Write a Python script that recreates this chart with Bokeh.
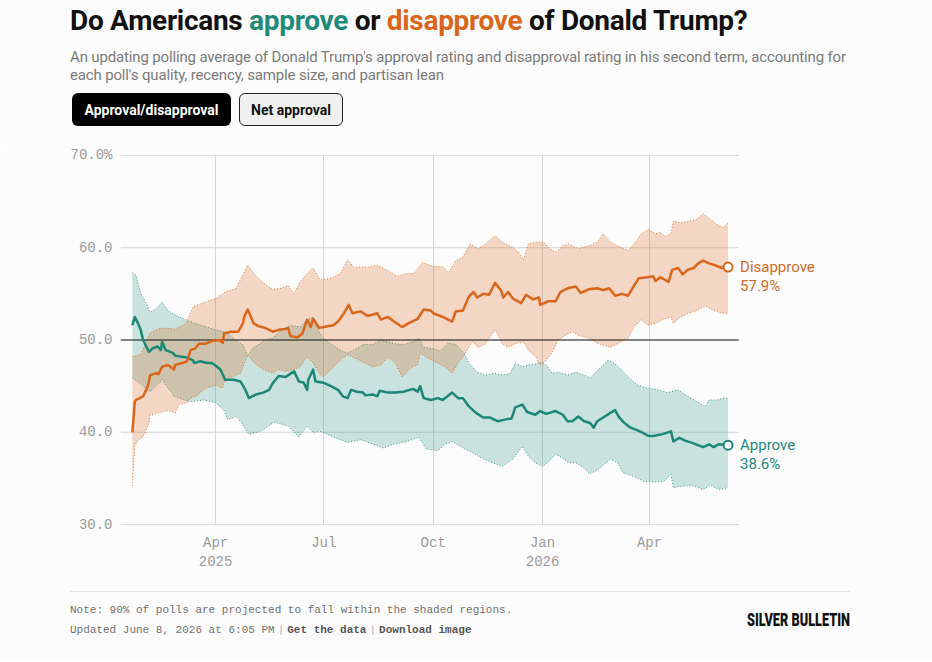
import numpy as np
import pandas as pd
from bokeh.plotting import figure
from bokeh.models import Range1d, FixedTicker, Div
from bokeh.core.properties import value
from bokeh.layouts import column
from bokeh.embed import file_html
from bokeh.resources import INLINE

# ---------------- data ----------------
dis_dates = ["2025-01-21","2025-01-23","2025-01-24","2025-01-30","2025-02-03","2025-02-05","2025-02-10","2025-02-12",
             "2025-02-15","2025-02-20","2025-02-25","2025-02-26","2025-03-04","2025-03-08","2025-03-11","2025-03-15",
             "2025-03-18","2025-03-24","2025-03-29","2025-04-04","2025-04-07","2025-04-08","2025-04-14","2025-04-20",
             "2025-04-24","2025-04-25","2025-04-28","2025-04-30","2025-05-03","2025-05-07","2025-05-13","2025-05-19",
             "2025-05-24","2025-05-30","2025-06-01","2025-06-03","2025-06-09","2025-06-13","2025-06-17","2025-06-20",
             "2025-06-22","2025-06-27","2025-07-01","2025-07-09","2025-07-13","2025-07-18","2025-07-22","2025-07-25",
             "2025-08-01","2025-08-07","2025-08-15","2025-08-18","2025-08-24","2025-08-29","2025-09-05","2025-09-10",
             "2025-09-18","2025-09-23","2025-09-29","2025-10-01","2025-10-07","2025-10-09","2025-10-17","2025-10-20",
             "2025-10-26","2025-10-31","2025-11-04","2025-11-07","2025-11-12","2025-11-17","2025-11-22","2025-11-27",
             "2025-11-29","2025-12-03","2025-12-07","2025-12-14","2025-12-18","2025-12-24","2025-12-29","2025-12-30",
             "2026-01-06","2026-01-12","2026-01-16","2026-01-22","2026-01-29","2026-02-02","2026-02-09","2026-02-16",
             "2026-02-21","2026-02-26","2026-03-03","2026-03-09","2026-03-14","2026-03-19","2026-03-23","2026-03-30",
             "2026-04-04","2026-04-06","2026-04-10","2026-04-17","2026-04-20","2026-04-25","2026-04-29","2026-05-03",
             "2026-05-08","2026-05-12","2026-05-16","2026-05-21","2026-05-26","2026-06-01","2026-06-06"]
dis_vals = [40.0,43.3,43.5,43.9,45.0,46.2,46.4,46.3,47.1,47.3,46.8,47.3,47.5,47.7,48.9,49.1,
            49.6,49.6,49.9,50.0,49.7,50.7,50.9,50.9,51.8,52.5,53.3,52.7,51.8,51.5,51.3,50.9,
            51.1,51.2,51.3,50.4,50.3,50.7,52.2,51.4,52.3,51.3,51.4,51.6,52.0,52.9,53.8,52.9,
            53.1,52.6,52.9,52.2,52.5,52.0,51.4,51.8,52.3,53.3,53.2,52.9,52.6,52.5,52.0,53.1,
            53.2,54.7,55.2,54.6,55.0,54.9,56.2,55.4,54.6,55.2,54.5,54.0,54.9,54.4,54.6,53.8,
            54.2,54.2,55.2,55.6,55.8,55.1,55.5,55.6,55.4,55.6,54.8,55.0,54.8,55.9,56.7,56.8,
            56.9,56.4,56.8,56.3,57.6,57.8,57.1,57.6,57.8,58.3,58.6,58.3,58.1,57.8,57.9]

app_dates = ["2025-01-21","2025-01-23","2025-01-25","2025-01-28","2025-01-30","2025-02-04","2025-02-07","2025-02-11",
             "2025-02-14","2025-02-15","2025-02-18","2025-02-24","2025-02-26","2025-03-03","2025-03-08","2025-03-13",
             "2025-03-14","2025-03-19","2025-03-25","2025-03-29","2025-04-01","2025-04-05","2025-04-09","2025-04-16",
             "2025-04-22","2025-04-26","2025-04-29","2025-05-05","2025-05-11","2025-05-16","2025-05-19","2025-05-24",
             "2025-05-30","2025-06-06","2025-06-10","2025-06-14","2025-06-17","2025-06-18","2025-06-22","2025-06-24",
             "2025-06-30","2025-07-07","2025-07-13","2025-07-17","2025-07-21","2025-07-24","2025-07-29","2025-08-03",
             "2025-08-05","2025-08-11","2025-08-15","2025-08-17","2025-08-24","2025-08-30","2025-09-06","2025-09-14",
             "2025-09-18","2025-09-20","2025-09-23","2025-09-29","2025-10-05","2025-10-09","2025-10-17","2025-10-22",
             "2025-10-26","2025-10-31","2025-11-06","2025-11-12","2025-11-18","2025-11-24","2025-12-01","2025-12-06",
             "2025-12-09","2025-12-15","2025-12-19","2025-12-26","2025-12-30","2026-01-04","2026-01-12","2026-01-18",
             "2026-01-22","2026-01-26","2026-01-31","2026-02-05","2026-02-10","2026-02-13","2026-02-16","2026-02-21",
             "2026-02-27","2026-03-03","2026-03-06","2026-03-10","2026-03-16","2026-03-22","2026-03-27","2026-03-31",
             "2026-04-04","2026-04-12","2026-04-19","2026-04-21","2026-04-26","2026-05-01","2026-05-08","2026-05-16",
             "2026-05-21","2026-05-25","2026-05-29","2026-06-06"]
app_vals = [51.6,52.5,52.0,51.1,50.0,48.7,49.1,49.3,48.9,49.8,48.9,48.6,48.3,48.2,48.1,47.8,
            47.5,47.7,47.5,47.5,47.2,46.8,45.7,45.7,45.5,44.6,43.7,44.1,44.3,44.6,45.3,46.1,
            46.0,46.6,45.5,45.4,44.6,45.7,46.8,45.5,45.4,45.0,44.6,43.9,43.7,44.6,44.4,44.3,
            44.0,44.1,43.9,44.5,44.3,44.3,44.4,44.7,44.4,45.0,43.7,43.5,43.7,43.5,44.3,43.7,
            43.7,42.8,42.1,41.6,41.6,41.2,41.4,41.5,42.7,43.0,42.2,41.9,42.3,42.0,42.3,41.9,
            41.2,41.2,41.7,41.2,41.0,40.5,41.2,41.6,42.1,42.4,41.7,41.1,40.5,40.2,39.9,39.6,
            39.6,39.8,40.1,39.0,39.4,39.1,38.8,38.4,38.7,38.4,38.7,38.6]

dis_hi_dates = ["2025-01-21","2025-01-28","2025-02-05","2025-02-14","2025-02-26","2025-03-07","2025-03-13","2025-03-21",
                "2025-04-01","2025-04-09","2025-04-18","2025-04-22","2025-04-28","2025-05-03","2025-05-11","2025-05-19",
                "2025-05-26","2025-06-01","2025-06-06","2025-06-11","2025-06-17","2025-06-22","2025-06-28","2025-07-07",
                "2025-07-15","2025-07-21","2025-07-26","2025-08-07","2025-08-15","2025-08-24","2025-09-01","2025-09-09",
                "2025-09-15","2025-09-22","2025-10-01","2025-10-09","2025-10-14","2025-10-20","2025-10-26","2025-11-01",
                "2025-11-08","2025-11-14","2025-11-22","2025-11-28","2025-12-07","2025-12-12","2025-12-16","2025-12-20",
                "2025-12-26","2026-01-02","2026-01-06","2026-01-12","2026-01-18","2026-01-23","2026-01-31","2026-02-09",
                "2026-02-16","2026-02-21","2026-02-27","2026-03-05","2026-03-14","2026-03-19","2026-03-25","2026-03-31",
                "2026-04-06","2026-04-10","2026-04-14","2026-04-19","2026-04-21","2026-04-27","2026-05-06","2026-05-11",
                "2026-05-16","2026-05-22","2026-05-29","2026-06-02","2026-06-06"]
dis_hi_vals = [48.2,48.4,50.8,51.3,51.2,51.8,53.6,54.0,54.5,55.2,55.6,56.6,58.1,57.2,56.2,55.5,
               55.6,55.9,55.0,56.3,57.2,57.8,56.5,56.7,57.2,58.7,57.9,57.9,58.1,57.5,56.9,57.2,
               57.2,58.4,58.0,57.9,57.3,58.6,59.0,60.4,59.9,60.4,61.3,60.6,60.0,59.5,58.7,60.4,
               60.6,60.6,60.0,59.5,60.2,60.4,59.9,60.2,60.6,61.5,60.6,60.2,59.7,60.4,61.5,62.0,
               61.5,61.7,61.2,61.5,62.9,62.7,62.9,63.1,63.7,63.1,62.4,62.2,62.7]

dis_lo_dates = ["2025-01-21","2025-01-23","2025-01-26","2025-01-30","2025-02-04","2025-02-05","2025-02-12","2025-02-20",
                "2025-02-26","2025-03-01","2025-03-08","2025-03-11","2025-03-15","2025-03-24","2025-04-01","2025-04-07",
                "2025-04-09","2025-04-15","2025-04-22","2025-04-28","2025-05-03","2025-05-11","2025-05-19","2025-05-24",
                "2025-05-30","2025-06-06","2025-06-11","2025-06-17","2025-06-22","2025-06-27","2025-07-01","2025-07-07",
                "2025-07-15","2025-07-21","2025-07-26","2025-08-03","2025-08-11","2025-08-18","2025-08-24","2025-08-30",
                "2025-09-05","2025-09-12","2025-09-18","2025-09-20","2025-09-26","2025-10-03","2025-10-11","2025-10-17",
                "2025-10-22","2025-10-28","2025-11-03","2025-11-08","2025-11-14","2025-11-22","2025-11-28","2025-12-03",
                "2025-12-09","2025-12-16","2025-12-20","2025-12-26","2025-12-30","2026-01-04","2026-01-09","2026-01-14",
                "2026-01-20","2026-01-26","2026-01-31","2026-02-09","2026-02-17","2026-02-27","2026-03-08","2026-03-14",
                "2026-03-19","2026-03-25","2026-03-30","2026-04-06","2026-04-12","2026-04-19","2026-04-21","2026-04-27",
                "2026-05-04","2026-05-11","2026-05-18","2026-05-25","2026-06-01","2026-06-06"]
dis_lo_vals = [34.2,38.5,39.2,39.5,41.0,41.9,42.1,42.4,42.1,43.0,43.2,43.7,43.9,44.8,45.1,44.8,
               45.7,46.0,46.4,48.4,47.6,46.8,46.4,46.8,46.6,46.8,47.1,48.2,47.5,46.4,46.0,46.8,
               47.8,48.4,48.1,47.6,47.1,47.3,48.2,47.5,46.0,47.0,47.3,48.6,48.1,47.6,47.1,46.4,
               47.5,48.6,49.8,49.2,49.6,51.1,49.6,49.2,49.6,49.8,48.9,48.2,47.3,47.8,48.6,50.0,
               50.5,50.9,50.5,50.2,49.6,49.2,49.8,50.2,51.4,52.2,51.6,51.8,52.2,52.5,51.8,52.5,
               52.9,53.2,53.7,53.2,52.9,52.9]

app_hi_dates = ["2025-01-21","2025-01-24","2025-01-28","2025-02-01","2025-02-05","2025-02-10","2025-02-15","2025-02-20",
                "2025-02-26","2025-03-07","2025-03-15","2025-03-25","2025-04-01","2025-04-09","2025-04-18","2025-04-24",
                "2025-04-28","2025-05-02","2025-05-07","2025-05-13","2025-05-20","2025-05-26","2025-06-03","2025-06-11",
                "2025-06-17","2025-06-22","2025-06-26","2025-06-30","2025-07-07","2025-07-15","2025-07-21","2025-07-26",
                "2025-08-03","2025-08-11","2025-08-18","2025-08-24","2025-08-30","2025-09-06","2025-09-14","2025-09-19",
                "2025-09-23","2025-09-30","2025-10-07","2025-10-14","2025-10-20","2025-10-27","2025-10-31","2025-11-07",
                "2025-11-14","2025-11-21","2025-11-28","2025-12-05","2025-12-09","2025-12-15","2025-12-20","2025-12-26",
                "2025-12-30","2026-01-04","2026-01-09","2026-01-14","2026-01-22","2026-01-29","2026-02-05","2026-02-10",
                "2026-02-17","2026-02-25","2026-03-02","2026-03-08","2026-03-14","2026-03-22","2026-03-30","2026-04-08",
                "2026-04-16","2026-04-25","2026-05-03","2026-05-11","2026-05-18","2026-05-21","2026-05-28","2026-06-02",
                "2026-06-06"]
app_hi_vals = [57.3,57.0,55.1,54.1,53.0,53.4,54.1,53.2,52.7,52.2,51.8,51.4,51.1,50.9,50.0,49.5,
               48.2,49.1,49.5,50.0,50.3,51.1,51.6,51.4,52.2,52.5,51.1,50.3,49.6,48.9,48.6,48.9,
               49.5,49.5,50.0,49.8,49.6,49.5,49.8,50.2,49.2,49.1,48.8,49.7,49.5,48.6,47.5,46.5,
               46.2,46.4,46.2,46.4,47.5,47.1,47.3,47.4,47.6,47.3,46.4,46.5,46.2,46.5,46.2,45.9,
               46.8,47.8,47.5,46.8,46.0,45.1,44.8,44.6,44.3,44.6,43.9,43.3,42.8,43.5,43.5,43.7,
               43.7]

app_lo_dates = ["2025-01-21","2025-02-05","2025-02-15","2025-02-25","2025-03-11","2025-03-22","2025-04-01","2025-04-08",
                "2025-04-11","2025-04-19","2025-04-29","2025-05-09","2025-05-20","2025-06-01","2025-06-10","2025-06-17",
                "2025-06-22","2025-06-28","2025-07-09","2025-07-21","2025-08-01","2025-08-12","2025-08-20","2025-08-29",
                "2025-09-09","2025-09-19","2025-09-25","2025-10-05","2025-10-11","2025-10-17","2025-10-26","2025-11-03",
                "2025-11-12","2025-11-20","2025-11-28","2025-12-07","2025-12-15","2025-12-20","2025-12-26","2026-01-01",
                "2026-01-06","2026-01-12","2026-01-18","2026-01-23","2026-01-29","2026-02-04","2026-02-10","2026-02-17",
                "2026-02-27","2026-03-05","2026-03-10","2026-03-19","2026-03-27","2026-04-04","2026-04-13","2026-04-19",
                "2026-04-21","2026-04-30","2026-05-08","2026-05-16","2026-05-22","2026-05-29","2026-06-06"]
app_lo_vals = [45.9,44.4,45.7,43.9,43.3,43.5,43.2,42.4,41.4,41.7,39.8,40.1,41.1,40.7,39.5,40.7,
               40.0,40.1,39.5,38.9,39.2,38.7,38.3,38.7,39.0,39.5,38.2,38.0,38.7,39.0,38.3,37.8,
               37.1,36.7,36.3,37.1,38.5,37.4,36.7,36.3,36.8,37.6,37.2,36.7,36.7,36.2,35.5,36.0,
               37.1,36.7,35.6,35.2,34.7,34.6,34.7,35.4,34.0,34.2,34.2,33.8,34.3,33.8,34.0]

tick_dates = ["2025-04-01", "2025-07-01", "2025-10-01", "2026-01-01", "2026-04-01"]
tick_labels = ["Apr\n2025", "Jul", "Oct", "Jan\n2026", "Apr"]
y_ticks = [30, 40, 50, 60, 70]
y_labels = ["30.0", "40.0", "50.0", "60.0", "70.0%"]
grid_start = "2025-01-11"
grid_end = "2026-06-15"
midline = 50

# ---------------- styling ----------------
TEAL = "#1b8775"
ORANGE = "#d9661a"
BG = "#fcfcfc"
GRID = "#d6d6d6"
MONO = "Liberation Mono"


def dt(lst):
    return pd.to_datetime(lst).values


def ms(d):
    return pd.Timestamp(d).value // 10**6


p = figure(width=932, height=436, x_axis_type="datetime",
           x_range=Range1d(start=pd.Timestamp(grid_start), end=pd.Timestamp("2026-09-17")),
           y_range=Range1d(29.9, 70.1),
           output_backend="svg", toolbar_location=None,
           min_border_left=120, min_border_right=82, min_border_top=10, min_border_bottom=55,
           background_fill_color=BG, border_fill_color=BG, outline_line_color=None)

tick_ms = [ms(d) for d in tick_dates]
xt = FixedTicker(ticks=tick_ms)
p.xaxis.ticker = xt
p.xgrid.ticker = xt
p.xaxis.major_label_overrides = {t: l for t, l in zip(tick_ms, tick_labels)}
p.yaxis.ticker = FixedTicker(ticks=y_ticks)
p.yaxis.major_label_overrides = {t: l for t, l in zip(y_ticks, y_labels)}
p.ygrid.grid_line_color = None

for ax in (p.xaxis[0], p.yaxis[0]):
    ax.axis_line_color = None
    ax.major_tick_line_color = None
    ax.minor_tick_line_color = None
    ax.major_label_text_font = MONO
    ax.major_label_text_font_size = "14px"
    ax.major_label_text_color = "#9a9a9a"
p.xaxis.major_label_standoff = 3
p.yaxis.major_label_standoff = 2

p.xgrid.grid_line_color = GRID
p.xgrid.bounds = (ms(grid_start), ms(grid_end))

# horizontal gridlines only across the data area
n = len(y_ticks)
p.segment(x0=dt([grid_start] * n), y0=y_ticks, x1=dt([grid_end] * n), y1=y_ticks,
          line_color=GRID, line_width=1)


# bands: approve (teal) first, then disapprove (orange)
def band(hi_d, hi_v, lo_d, lo_v, color, alpha):
    hx = dt(hi_d)
    lx = dt(lo_d)
    px = np.concatenate([hx, lx[::-1]])
    py = np.concatenate([np.array(hi_v), np.array(lo_v)[::-1]])
    p.patch(px, py, fill_color=color, fill_alpha=alpha, line_color=None)
    p.line(hx, hi_v, line_color=color, line_alpha=0.85, line_width=1, line_dash="1 2")
    p.line(lx, lo_v, line_color=color, line_alpha=0.85, line_width=1, line_dash="1 2")


band(app_hi_dates, app_hi_vals, app_lo_dates, app_lo_vals, TEAL, 0.22)
band(dis_hi_dates, dis_hi_vals, dis_lo_dates, dis_lo_vals, ORANGE, 0.25)

# 50% reference line, above the bands, below the averages
p.segment(x0=dt([grid_start]), y0=[midline], x1=dt([grid_end]), y1=[midline],
          line_color="#1a1a1a", line_width=1)

p.line(dt(app_dates), app_vals, line_color=TEAL, line_width=2.5, line_join="round")
p.line(dt(dis_dates), dis_vals, line_color=ORANGE, line_width=2.5, line_join="round")

p.scatter(dt([app_dates[-1]]), [app_vals[-1]], size=9, fill_color="white", line_color=TEAL, line_width=2)
p.scatter(dt([dis_dates[-1]]), [dis_vals[-1]], size=9, fill_color="white", line_color=ORANGE, line_width=2)

for dates, vals, name, col in ((dis_dates, dis_vals, "Disapprove", "#cf6a28"),
                               (app_dates, app_vals, "Approve", "#23897a")):
    p.text(x=dt([dates[-1]]), y=[vals[-1]], text=[name], x_offset=12, text_baseline="middle",
           text_font=value("Roboto"), text_font_size="15px", text_color=col)
    p.text(x=dt([dates[-1]]), y=[vals[-1]], text=[f"{vals[-1]:.1f}%"], x_offset=12, y_offset=19,
           text_baseline="middle", text_font=value("Roboto"), text_font_size="15px", text_color=col)

header_html = """
<div style="position:relative;width:932px;height:144px;">
  <div style="position:absolute;left:70px;top:7px;white-space:nowrap;font-family:Roboto,sans-serif;font-weight:bold;
              font-size:28px;line-height:28px;letter-spacing:-0.3px;color:#111;">Do Americans <span style="color:#1f8a78">approve</span> or <span style="color:#d9661a">disapprove</span> of Donald Trump?</div>
  <div style="position:absolute;left:70px;top:48px;white-space:nowrap;font-family:Roboto,sans-serif;font-size:15px;
              line-height:18px;letter-spacing:-0.15px;color:#7a7a7a;">An updating polling average of Donald Trump's approval rating and disapproval rating in his second term, accounting for<br>each poll's quality, recency, sample size, and partisan lean</div>
  <div style="position:absolute;left:72px;top:93px;width:159px;height:33px;box-sizing:border-box;border-radius:6px;
              background:#000;color:#fff;font-family:Roboto,sans-serif;font-weight:bold;font-size:14px;
              display:flex;align-items:center;justify-content:center;">Approval/disapproval</div>
  <div style="position:absolute;left:239px;top:93px;width:104px;height:33px;box-sizing:border-box;border-radius:6px;
              background:#f0f0f0;border:1px solid #222;color:#111;font-family:Roboto,sans-serif;font-weight:bold;font-size:14px;
              display:flex;align-items:center;justify-content:center;">Net approval</div>
</div>
"""

footer_html = """
<div style="position:relative;width:932px;height:80px;">
  <div style="position:absolute;left:70px;top:11px;width:780px;border-top:1px solid #e4e4e4;"></div>
  <div style="position:absolute;left:70px;top:23px;white-space:nowrap;font-family:'Liberation Mono',monospace;font-size:11px;
              line-height:14px;color:#707070;">Note: 90% of polls are projected to fall within the shaded regions.</div>
  <div style="position:absolute;left:70px;top:43px;white-space:nowrap;font-family:'Liberation Mono',monospace;font-size:11px;
              line-height:14px;color:#707070;">Updated June 8, 2026 at 6:05 PM<span style="margin:0 3px;color:#b0b0b0">|</span><b style="color:#555">Get the data</b><span style="margin:0 3px;color:#b0b0b0">|</span><b style="color:#555">Download image</b></div>
  <div style="position:absolute;left:747px;top:29px;white-space:nowrap;font-family:Roboto,sans-serif;font-weight:900;font-size:19px;
              line-height:22px;color:#111;transform:scaleX(0.67);transform-origin:left center;">SILVER BULLETIN</div>
</div>
"""

header = Div(text=header_html, width=932, height=144, margin=0, styles={"background-color": BG})
footer = Div(text=footer_html, width=932, height=80, margin=0, styles={"background-color": BG})

layout = column(header, p, footer, spacing=0)
open("out.html", "w").write(file_html(layout, INLINE))
